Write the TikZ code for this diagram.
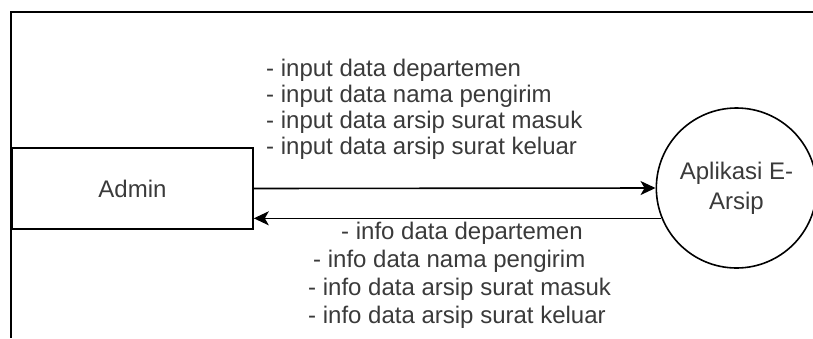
\documentclass[tikz,border=0pt]{standalone}
\usepackage{fontspec}
\setmainfont{Liberation Sans}
\usetikzlibrary{shapes.geometric,arrows.meta}
\definecolor{txt}{HTML}{3A3A3A}
\tikzset{
  every node/.style={font=\fontsize{24}{26}\selectfont, text=txt},
  entity/.style={draw=black, line width=1.6pt, rectangle, minimum width=241pt, minimum height=81pt, inner sep=0pt},
  proc/.style={draw=black, line width=1.6pt, ellipse, minimum width=151pt, minimum height=160pt, inner sep=0pt, align=center, font=\fontsize{24}{30}\selectfont},
  flowlabel/.style={anchor=west, inner sep=0pt},
  flow/.style={draw=black, line width=1.6pt, -{Stealth[length=15pt, width=14pt, inset=4pt]}},
  frame/.style={draw=black, line width=1.9pt}
}
\begin{document}
\begin{tikzpicture}[x=1pt, y=-1pt]
\useasboundingbox (0,0) rectangle (813,338);

% outer frame (top and left sides)
\coordinate (fTL) at (11,12);
\coordinate (fTR) at (813,12);
\coordinate (fBL) at (11,338);
\draw[frame] (fTR) -- (fTL) -- (fBL);

% entity and process
\node[entity] (admin) at (132.5,188.5) {Admin};
\node[proc] (app) at (736.5,188) {Aplikasi E-\\Arsip};

% data flows
\draw[flow] (admin.east) -- (app.west);
\draw[flow] (app.202.4) -- (app.202.4 -| admin.east);

% labels of the input flow
\node[flowlabel] (in1) at (266,70) {- input data departemen};
\node[flowlabel] (in2) at (266,96) {- input data nama pengirim};
\node[flowlabel] (in3) at (266,122) {- input data arsip surat masuk};
\node[flowlabel] (in4) at (266,148) {- input data arsip surat keluar};

% labels of the output flow
\node[flowlabel] (out1) at (341,233) {- info data departemen};
\node[flowlabel] (out2) at (313,261) {- info data nama pengirim};
\node[flowlabel] (out3) at (308,289) {- info data arsip surat masuk};
\node[flowlabel] (out4) at (308,317) {- info data arsip surat keluar};
\end{tikzpicture}
\end{document}
